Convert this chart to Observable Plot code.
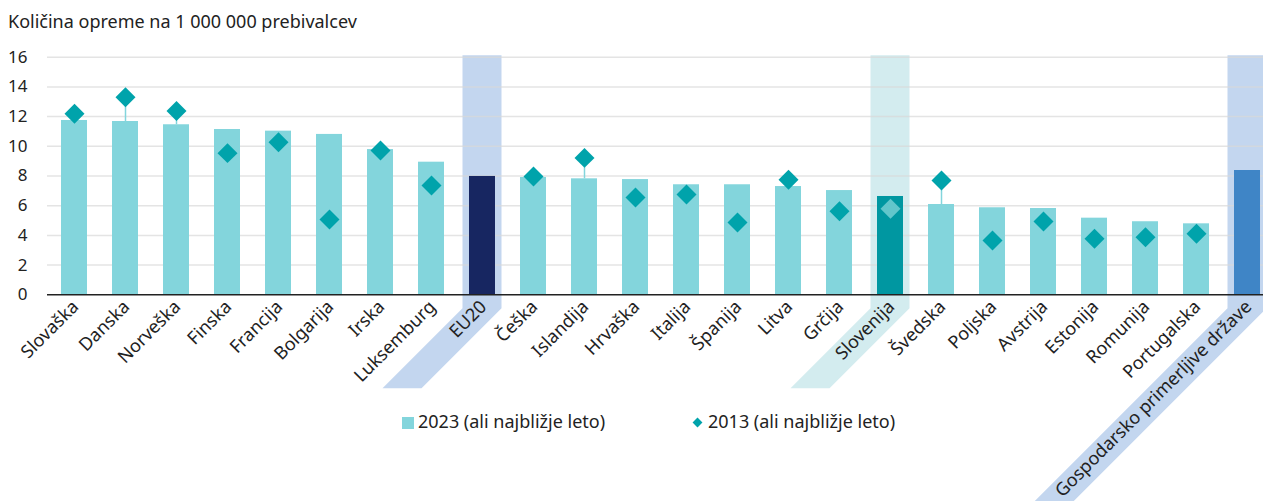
<!DOCTYPE html>
<html>
<head>
<meta charset="utf-8">
<script src="https://cdn.jsdelivr.net/npm/d3@7"></script>
<script src="https://cdn.jsdelivr.net/npm/@observablehq/plot@0.6"></script>
<style>
  html, body { margin: 0; padding: 0; overflow: hidden; background: #fff; }
  #wrap { position: relative; width: 1263px; height: 501px; font-family: "Noto Sans", sans-serif; color: #222; }
  #chart { position: absolute; left: 0; top: 0; }
  .txt { position: absolute; font-size: 18px; line-height: 22px; white-space: nowrap; }
  .sw { position: absolute; width: 12px; height: 12px; }
  .dm { position: absolute; width: 7px; height: 7px; transform: rotate(45deg); }
</style>
</head>
<body>
<div id="wrap">
  <div id="chart"></div>
  <div class="txt" id="sub" style="left:8px; top:10px;"></div>
  <div class="sw" id="sw1" style="left:402px; top:417px;"></div>
  <div class="txt" id="lg1" style="left:418px; top:410px;"></div>
  <div class="dm" id="sw2" style="left:694px; top:419px;"></div>
  <div class="txt" id="lg2" style="left:708px; top:410px;"></div>
</div>
<script>
// ---- data ----
const subtitle = "Količina opreme na 1 000 000 prebivalcev";
const categories = ["Slovaška","Danska","Norveška","Finska","Francija","Bolgarija","Irska","Luksemburg","EU20","Češka","Islandija","Hrvaška","Italija","Španija","Litva","Grčija","Slovenija","Švedska","Poljska","Avstrija","Estonija","Romunija","Portugalska","Gospodarsko primerljive države"];
const values2023 = [11.74,11.67,11.45,11.13,11.02,10.80,9.78,8.93,7.97,7.90,7.81,7.76,7.41,7.41,7.29,7.02,6.62,6.08,5.86,5.81,5.16,4.92,4.78,8.37];
const values2013 = [12.19,13.31,12.37,9.54,10.28,5.07,9.72,7.36,null,7.97,9.22,6.55,6.75,4.87,7.74,5.63,5.79,7.70,3.66,4.94,3.77,3.88,4.11,null];
const yTicks = [0,2,4,6,8,10,12,14,16];
const legendLabels = ["2023 (ali najbližje leto)", "2013 (ali najbližje leto)"];
const highlights = [
  {c: "EU20", fill: "#c3d6ef", tail: 80},
  {c: "Slovenija", fill: "#d3ecef", tail: 80},
  {c: "Gospodarsko primerljive države", fill: "#c3d6ef", tail: 260}
];

// ---- styles ----
const barColor = d => d === "EU20" ? "#172661" : d === "Slovenija" ? "#0097a1" : d === "Gospodarsko primerljive države" ? "#3f85c6" : "#83d5dc";
const dotColor = d => d === "Slovenija" ? "#62c6cb" : "#00a3ab";

const data = categories.map((c, i) => ({c, a: values2023[i], b: values2013[i]}));
const dots = data.filter(d => d.b != null);

document.getElementById("sub").textContent = subtitle;
document.getElementById("lg1").textContent = legendLabels[0];
document.getElementById("lg2").textContent = legendLabels[1];
document.getElementById("sw1").style.background = "#83d5dc";
document.getElementById("sw2").style.background = "#00a3ab";

function highlightMark(index, scales, values, dimensions) {
  const x = scales.x;
  const step = x(categories[1]) - x(categories[0]);
  let bw = x.bandwidth;
  bw = typeof bw === "function" ? bw() : (bw ?? step / 2);
  const y0 = scales.y(0);
  const yTop = scales.y(16.1);
  const hw = 19.5;
  const g = d3.create("svg:g");
  for (const h of highlights) {
    const cx = x(h.c) + bw / 2;
    const yb = y0 + 14;
    const L = h.tail;
    const pts = [
      [cx - hw, yTop], [cx + hw, yTop], [cx + hw, yb],
      [cx + hw - L, yb + L], [cx - hw - L, yb + L], [cx - hw, yb]
    ];
    g.append("path").attr("d", "M" + pts.map(p => p.join(",")).join("L") + "Z").attr("fill", h.fill);
  }
  return g.node();
}

const chart = Plot.plot({
  width: 1263,
  height: 501,
  marginTop: 56.7,
  marginBottom: 501 - 294.3,
  marginLeft: 47,
  marginRight: 0,
  style: {fontFamily: "Noto Sans, sans-serif", background: "transparent", overflow: "hidden"},
  x: {domain: categories, range: [47, 1273], paddingInner: 0.5, paddingOuter: 0.25, axis: null},
  y: {domain: [0, 16], axis: null},
  marks: [
    highlightMark,
    Plot.ruleY(yTicks.filter(t => t > 0), {stroke: "#d9d9d9", strokeOpacity: 0.7, strokeWidth: 1.5}),
    Plot.barY(data, {x: "c", y: "a", fill: d => barColor(d.c)}),
    Plot.ruleY([0], {stroke: "#222", strokeWidth: 1.5}),
    Plot.ruleX(dots.filter(d => d.b > d.a), {x: "c", y1: "a", y2: "b", stroke: "#83d5dc", strokeWidth: 1.5}),
    Plot.dot(dots, {x: "c", y: "b", symbol: "diamond2", r: 9, fill: d => dotColor(d.c), stroke: null}),
    Plot.axisY(yTicks, {tickSize: 0, tickPadding: 20, fontSize: 17, fill: "#222", label: null}),
    Plot.text(data, {x: "c", y: 0, text: "c", rotate: -45, textAnchor: "end", lineAnchor: "middle", dx: 1, dy: 9, fontSize: 18, fill: "#222"})
  ]
});
document.getElementById("chart").appendChild(chart);
</script>
</body>
</html>
